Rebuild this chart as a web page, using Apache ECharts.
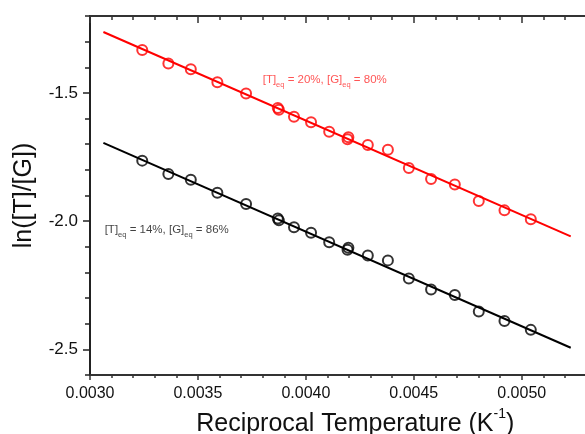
<!DOCTYPE html>
<html>
<head>
<meta charset="utf-8">
<script src="https://cdn.jsdelivr.net/npm/echarts@6/dist/echarts.min.js"></script>
<style>
html,body{margin:0;padding:0;background:#fff;}
#chart{width:585px;height:434px;}
</style>
</head>
<body>
<div id="chart"></div>
<script>
// Reciprocal temperature (K^-1)
const xValues = [0.003242, 0.003363, 0.003467, 0.003590, 0.003723, 0.003870, 0.003875, 0.003945, 0.004024, 0.004108, 0.004197, 0.004193, 0.004287, 0.004380, 0.004477, 0.004580, 0.004690, 0.004801, 0.004920, 0.005042];
// ln([T]/[G]) for [T]eq = 20%
const redValues = [-1.333, -1.385, -1.4075, -1.458, -1.502, -1.559, -1.566, -1.593, -1.614, -1.651, -1.673, -1.681, -1.703, -1.722, -1.793, -1.836, -1.857, -1.921, -1.958, -1.993];
// ln([T]/[G]) for [T]eq = 14%
const blackValues = [-1.764, -1.816, -1.839, -1.889, -1.933, -1.990, -1.997, -2.024, -2.045, -2.082, -2.104, -2.112, -2.134, -2.153, -2.224, -2.267, -2.288, -2.352, -2.389, -2.424];
// linear fit endpoints
const fitX = [0.003062, 0.005227];
const redFit = [-1.2624, -2.0596];
const blackFit = [-1.695, -2.4937];
// annotation anchors
const redLabelPos = [0.00380, -1.455];
const blackLabelPos = [0.003068, -2.041];
const xMajorTicks = [0.0030, 0.0035, 0.0040, 0.0045, 0.0050];
const yMajorTicks = [-2.5, -2.0, -1.5];

const FONT = 'Liberation Sans, Arial, sans-serif';
const RED = '#ff0000';
const BLACK = '#000000';

function pairs(xs, ys) { return xs.map((x, i) => [x, ys[i]]); }

const chart = echarts.init(document.getElementById('chart'), null, {renderer: 'canvas'});

const xBase = {min: 0.003, max: 0.0053, interval: 0.0001, splitLine: {show: false}};
const yBase = {min: -2.6, max: -1.2, interval: 0.1, splitLine: {show: false}};

const option = {
  backgroundColor: '#ffffff',
  animation: false,
  grid: {left: 90, top: 16, right: -1.5, bottom: 59, containLabel: false, outerBoundsMode: 'none'},
  xAxis: [
    Object.assign({}, xBase, {
      type: 'value', position: 'bottom',
      axisLine: {show: true, onZero: false, lineStyle: {color: '#333', width: 2}},
      axisTick: {show: true, inside: false, length: 3, lineStyle: {color: '#333', width: 1.5}},
      axisLabel: {show: true, customValues: xMajorTicks, margin: 11, color: '#111', fontSize: 16, fontFamily: FONT,
        formatter: v => v.toFixed(4)},
      name: '{a|Reciprocal Temperature (K}{b|-1}{a|)}',
      nameLocation: 'middle', nameGap: 26,
      nameTextStyle: {padding: [0, 0, 0, 34], rich: {
        a: {fontSize: 25, fontFamily: FONT, color: '#111', lineHeight: 30, verticalAlign: 'bottom'},
        b: {fontSize: 14, fontFamily: FONT, color: '#111', lineHeight: 30, verticalAlign: 'top'}
      }}
    }),
    Object.assign({}, xBase, {
      type: 'value', position: 'bottom',
      axisLine: {show: false, onZero: false},
      axisTick: {show: true, inside: false, length: 5, customValues: xMajorTicks, lineStyle: {color: '#333', width: 1.5}},
      axisLabel: {show: false}
    }),
    Object.assign({}, xBase, {
      type: 'value', position: 'top',
      axisLine: {show: true, onZero: false, lineStyle: {color: '#333', width: 2}},
      axisTick: {show: true, inside: true, length: 4, lineStyle: {color: '#333', width: 1.5}},
      axisLabel: {show: false}
    }),
    Object.assign({}, xBase, {
      type: 'value', position: 'top',
      axisLine: {show: false, onZero: false},
      axisTick: {show: true, inside: true, length: 7, customValues: xMajorTicks, lineStyle: {color: '#333', width: 1.5}},
      axisLabel: {show: false}
    })
  ],
  yAxis: [
    Object.assign({}, yBase, {
      type: 'value', position: 'left',
      axisLine: {show: true, onZero: false, lineStyle: {color: '#222', width: 2}},
      axisTick: {show: true, inside: false, length: 5, lineStyle: {color: '#222', width: 1.5}},
      axisLabel: {show: true, customValues: yMajorTicks, margin: 12, color: '#111', fontSize: 17, fontFamily: FONT,
        formatter: v => v.toFixed(1)},
      name: 'ln([T]/[G])', nameLocation: 'middle', nameGap: 53,
      nameTextStyle: {fontSize: 25, fontFamily: FONT, color: '#111'}
    }),
    Object.assign({}, yBase, {
      type: 'value', position: 'left',
      axisLine: {show: false, onZero: false},
      axisTick: {show: true, inside: false, length: 7, customValues: yMajorTicks, lineStyle: {color: '#222', width: 1.5}},
      axisLabel: {show: false}
    })
  ],
  series: [
    {type: 'line', data: pairs(fitX, redFit), showSymbol: false, symbol: 'none',
      lineStyle: {color: RED, width: 2}, z: 2},
    {type: 'line', data: pairs(fitX, blackFit), showSymbol: false, symbol: 'none',
      lineStyle: {color: BLACK, width: 2}, z: 2},
    {type: 'scatter', data: pairs(xValues, redValues), symbol: 'circle', symbolSize: 10,
      itemStyle: {color: 'rgba(255,255,255,0)', borderColor: RED, borderWidth: 2}, z: 3},
    {type: 'scatter', data: pairs(xValues, blackValues), symbol: 'circle', symbolSize: 10,
      itemStyle: {color: 'rgba(255,255,255,0)', borderColor: BLACK, borderWidth: 2}, z: 3},
    {type: 'scatter', data: [redLabelPos], symbolSize: 0, silent: true, z: 4,
      label: {show: true, position: 'right', distance: 0,
        formatter: '{n|[T]}{s|eq}{n| = 20%, [G]}{s|eq}{n| = 80%}',
        rich: {
          n: {fontSize: 11.5, fontFamily: FONT, color: '#ff2a2a', lineHeight: 15, verticalAlign: 'top'},
          s: {fontSize: 7.5, fontFamily: FONT, color: '#ff2a2a', lineHeight: 15, verticalAlign: 'bottom'}
        }}},
    {type: 'scatter', data: [blackLabelPos], symbolSize: 0, silent: true, z: 4,
      label: {show: true, position: 'right', distance: 0,
        formatter: '{n|[T]}{s|eq}{n| = 14%, [G]}{s|eq}{n| = 86%}',
        rich: {
          n: {fontSize: 11.5, fontFamily: FONT, color: '#111', lineHeight: 15, verticalAlign: 'top'},
          s: {fontSize: 7.5, fontFamily: FONT, color: '#111', lineHeight: 15, verticalAlign: 'bottom'}
        }}}
  ]
};
chart.setOption(option);
</script>
</body>
</html>
